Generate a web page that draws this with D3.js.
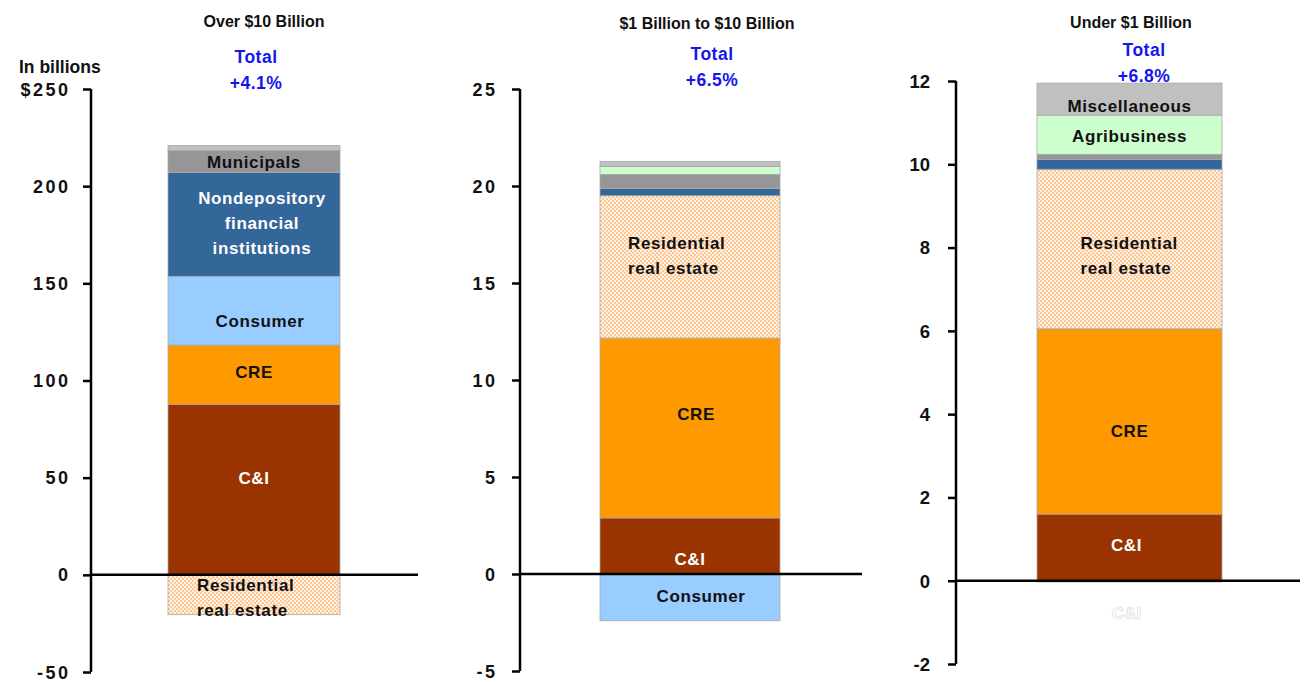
<!DOCTYPE html>
<html>
<head>
<meta charset="utf-8">
<script src="https://cdn.jsdelivr.net/npm/d3@7/dist/d3.min.js"></script>
<style>
  html, body { margin: 0; padding: 0; background: #fff; }
  svg { display: block; font-family: "Liberation Sans", Arial, sans-serif; }
</style>
</head>
<body>
<svg id="chart" width="1306" height="682"></svg>
<script>
// ---------------- DATA ----------------
const panelTitles = ["Over $10 Billion", "$1 Billion to $10 Billion", "Under $1 Billion"];
const totalChanges = ["+4.1%", "+6.5%", "+6.8%"];
const seriesNames = ["C&I", "CRE", "Residential real estate", "Consumer",
  "Nondepository financial institutions", "Municipals", "Agribusiness", "Miscellaneous"];
// values per panel: [Over $10B, $1B-$10B, Under $1B]
const ciValues          = [87.8, 2.89, 1.60];
const creValues         = [30.4, 9.27, 4.45];
const residentialValues = [-20.5, 7.34, 3.83];
const consumerValues    = [35.4, -2.41, -0.03];
const nondepValues      = [53.4, 0.37, 0.24];
const municipalValues   = [11.3, 0.73, 0.12];
const agribusinessValues= [0.0, 0.40, 0.94];
const miscValues        = [2.6, 0.27, 0.77];
const tickValues = [
  [-50, 0, 50, 100, 150, 200, 250],
  [-5, 0, 5, 10, 15, 20, 25],
  [-2, 0, 2, 4, 6, 8, 10, 12]
];
const tickLabels = [
  ["-50", "0", "50", "100", "150", "200", "$250"],
  ["-5", "0", "5", "10", "15", "20", "25"],
  ["-2", "0", "2", "4", "6", "8", "10", "12"]
];
const yDomains = [[-50, 250], [-5, 25], [-2, 12]];

// ---------------- STYLE / LAYOUT ----------------
const colors = ["#993300", "#ff9900", "url(#resPattern)", "#99ccff", "#336699", "#969696", "#ccffcc", "#c0c0c0"];
const layout = [
  { axisX: 91, barX: [168, 340], yRange: [672, 89], zeroEnd: 418, titleX: 264, titleY: 27, totalX: 256, totalY: 63, tickLS: 2.5, tickSize: 18, tickRight: 68 },
  { axisX: 520, barX: [600, 780], yRange: [671, 89], zeroEnd: 862, titleX: 707, titleY: 29, totalX: 712, totalY: 60, tickLS: 2.5, tickSize: 18, tickRight: 495 },
  { axisX: 956, barX: [1037, 1222], yRange: [664, 81], zeroEnd: 1300, titleX: 1131, titleY: 28, totalX: 1144, totalY: 56, tickLS: 0, tickSize: 18.5, tickRight: 930 }
];
// labels: [panel, series index, lines, dy, colour, x offset, anchor]
const labels = [
  [0, 5, ["Municipals"], 0, "#111", 0, "middle"],
  [0, 4, ["Nondepository", "financial", "institutions"], -2, "#fff", 8, "middle"],
  [0, 3, ["Consumer"], 10, "#111", 6, "middle"],
  [0, 1, ["CRE"], -3, "#111", 0, "middle"],
  [0, 0, ["C&I"], -12, "#fff", 0, "middle"],
  [0, 2, ["Residential", "real estate"], 3, "#111", -57, "start"],
  [1, 2, ["Residential", "real estate"], -12, "#111", -62, "start"],
  [1, 1, ["CRE"], -14, "#111", 6, "middle"],
  [1, 0, ["C&I"], 13, "#fff", 0, "middle"],
  [1, 3, ["Consumer"], -1, "#111", 11, "middle"],
  [2, 7, ["Miscellaneous"], 7, "#111", 0, "middle"],
  [2, 6, ["Agribusiness"], 1, "#111", 0, "middle"],
  [2, 2, ["Residential", "real estate"], 6, "#111", -49, "start"],
  [2, 1, ["CRE"], 9, "#111", 0, "middle"],
  [2, 0, ["C&I"], -3, "#fff", -3, "middle"]
];

const svg = d3.select("#chart");
const defs = svg.append("defs");
const pat = defs.append("pattern").attr("id", "resPattern")
  .attr("patternUnits", "userSpaceOnUse").attr("width", 4).attr("height", 4);
pat.append("rect").attr("width", 4).attr("height", 4).attr("fill", "#fff2e4");
pat.append("rect").attr("width", 2).attr("height", 2).attr("fill", "#fbc896");
pat.append("rect").attr("x", 2).attr("y", 2).attr("width", 2).attr("height", 2).attr("fill", "#fbc896");

const allSeries = [ciValues, creValues, residentialValues, consumerValues,
  nondepValues, municipalValues, agribusinessValues, miscValues];

panelTitles.forEach((title, p) => {
  const L = layout[p];
  const row = { panel: title };
  seriesNames.forEach((s, i) => row[s] = allSeries[i][p]);
  const stacked = d3.stack().keys(seriesNames).offset(d3.stackOffsetDiverging)([row]);

  const y = d3.scaleLinear().domain(yDomains[p]).range(L.yRange);
  const x = d3.scaleBand().domain([title]).range(L.barX).padding(0);
  const g = svg.append("g");

  // bars
  stacked.forEach((ser, i) => {
    const d = ser[0];
    const y0 = Math.min(d[0], d[1]), y1 = Math.max(d[0], d[1]);
    if (y1 - y0 <= 0) return;
    g.append("rect")
      .attr("x", x(title)).attr("width", x.bandwidth())
      .attr("y", y(y1)).attr("height", Math.max(0.8, y(y0) - y(y1)))
      .attr("fill", colors[i])
      .attr("stroke", "#a8a8a8").attr("stroke-width", 0.8);
  });

  // y axis
  const axis = d3.axisLeft(y).tickValues(tickValues[p])
    .tickFormat((d, i) => tickLabels[p][i]).tickSize(8).tickSizeOuter(0);
  const ag = g.append("g").attr("transform", `translate(${L.axisX},0)`).call(axis);
  ag.select(".domain").attr("stroke", "#000").attr("stroke-width", 2.5)
    .attr("d", `M0,${y(yDomains[p][1])}V${y(yDomains[p][0])}`);
  ag.selectAll(".tick line").attr("stroke", "#000").attr("stroke-width", 2.5);
  ag.selectAll(".tick text")
    .attr("x", L.tickRight - L.axisX + L.tickLS).attr("dy", "0.34em")
    .attr("fill", "#111").style("font-size", L.tickSize + "px").style("font-weight", "bold")
    .style("letter-spacing", L.tickLS + "px").attr("text-anchor", "end");

  // zero line
  g.append("line").attr("x1", L.axisX).attr("x2", L.zeroEnd)
    .attr("y1", y(0)).attr("y2", y(0)).attr("stroke", "#000").attr("stroke-width", 2.5);

  // titles
  g.append("text").attr("x", L.titleX).attr("y", L.titleY).attr("text-anchor", "middle")
    .style("font-size", "16px").style("font-weight", "bold").attr("fill", "#111").text(title);
  const t = g.append("text").attr("text-anchor", "middle").attr("fill", "#1515ee")
    .style("font-size", "17.5px").style("font-weight", "bold").style("letter-spacing", "0.5px");
  t.append("tspan").attr("x", L.totalX).attr("y", L.totalY).text("Total");
  t.append("tspan").attr("x", L.totalX).attr("y", L.totalY + 26).text(totalChanges[p]);

  // segment labels
  const cx = x(title) + x.bandwidth() / 2;
  labels.filter(l => l[0] === p).forEach(l => {
    const d = stacked[l[1]][0];
    const mid = y((d[0] + d[1]) / 2) + l[3];
    const n = l[2].length;
    const txt = g.append("text").attr("text-anchor", l[6]).attr("fill", l[4])
      .style("font-size", "17px").style("font-weight", "bold").style("letter-spacing", "0.6px");
    l[2].forEach((line, k) => {
      txt.append("tspan").attr("x", cx + l[5])
        .attr("y", mid + (k - (n - 1) / 2) * 25).attr("dy", "0.36em").text(line);
    });
  });

  if (p === 2) {
    // faint stray label below the bar in the original
    g.append("text").attr("x", cx - 3).attr("y", y(-0.78)).attr("dy", "0.36em")
      .attr("text-anchor", "middle").attr("fill", "#fff").attr("stroke", "#d8d8d8")
      .attr("stroke-width", 0.6).style("font-size", "17px").style("font-weight", "bold").text("C&I");
  }
});

svg.append("text").attr("x", 19).attr("y", 73).style("font-size", "17.5px")
  .style("font-weight", "bold").attr("fill", "#111").text("In billions");
</script>
</body>
</html>
